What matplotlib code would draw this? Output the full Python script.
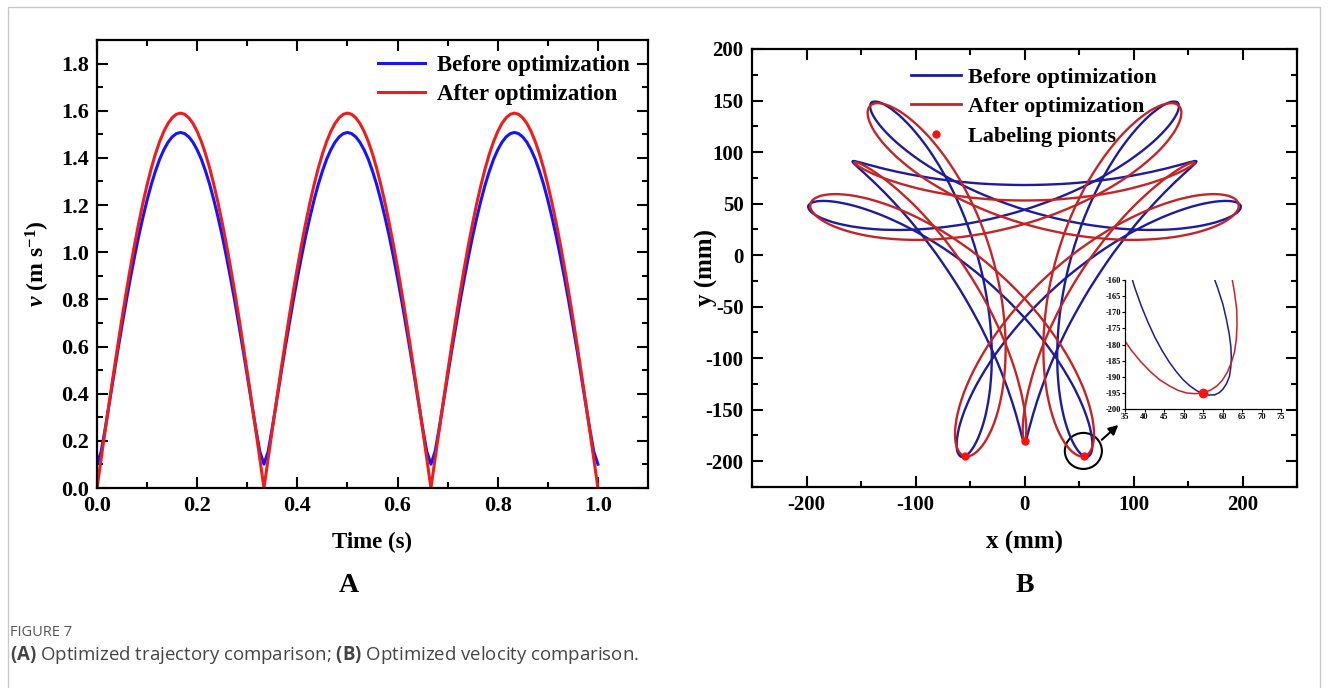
import numpy as np
import matplotlib.pyplot as plt
from matplotlib.patches import Ellipse, Rectangle

plt.rcParams['font.family'] = 'Liberation Serif'
plt.rcParams['font.weight'] = 'bold'
plt.rcParams['axes.labelweight'] = 'bold'
plt.rcParams['axes.unicode_minus'] = False
plt.rcParams['mathtext.fontset'] = 'custom'
plt.rcParams['mathtext.rm'] = 'Liberation Serif:bold'
plt.rcParams['mathtext.it'] = 'Liberation Serif:bold:italic'
plt.rcParams['mathtext.bf'] = 'Open Sans:bold'

# ---- panel A: speed over one second (read every 1/120 s)
time_s = np.linspace(0, 1, 121)
v_before = [0.101, 0.155, 0.256, 0.365, 0.476, 0.585, 0.690, 0.793, 0.890, 0.982,
            1.069, 1.148, 1.221, 1.287, 1.344, 1.394, 1.434, 1.466, 1.489, 1.503,
            1.508, 1.503, 1.489, 1.466, 1.434, 1.394, 1.344, 1.287, 1.221, 1.148,
            1.069, 0.982, 0.890, 0.793, 0.690, 0.585, 0.476, 0.365, 0.256, 0.155,
            0.101, 0.155, 0.256, 0.365, 0.476, 0.585, 0.690, 0.793, 0.890, 0.982,
            1.069, 1.148, 1.221, 1.287, 1.344, 1.394, 1.434, 1.466, 1.489, 1.503,
            1.508, 1.503, 1.489, 1.466, 1.434, 1.394, 1.344, 1.287, 1.221, 1.148,
            1.069, 0.982, 0.890, 0.793, 0.690, 0.585, 0.476, 0.365, 0.256, 0.155,
            0.101, 0.155, 0.256, 0.365, 0.476, 0.585, 0.690, 0.793, 0.890, 0.982,
            1.069, 1.148, 1.221, 1.287, 1.344, 1.394, 1.434, 1.466, 1.489, 1.503,
            1.508, 1.503, 1.489, 1.466, 1.434, 1.394, 1.344, 1.287, 1.221, 1.148,
            1.069, 0.982, 0.890, 0.793, 0.690, 0.585, 0.476, 0.365, 0.256, 0.155,
            0.101]
v_after = [0.000, 0.125, 0.249, 0.371, 0.491, 0.608, 0.722, 0.831, 0.935, 1.033,
           1.124, 1.209, 1.286, 1.356, 1.417, 1.469, 1.512, 1.546, 1.570, 1.585,
           1.590, 1.585, 1.570, 1.546, 1.512, 1.469, 1.417, 1.356, 1.286, 1.209,
           1.124, 1.033, 0.935, 0.831, 0.722, 0.608, 0.491, 0.371, 0.249, 0.125,
           0.000, 0.125, 0.249, 0.371, 0.491, 0.608, 0.722, 0.831, 0.935, 1.033,
           1.124, 1.209, 1.286, 1.356, 1.417, 1.469, 1.512, 1.546, 1.570, 1.585,
           1.590, 1.585, 1.570, 1.546, 1.512, 1.469, 1.417, 1.356, 1.286, 1.209,
           1.124, 1.033, 0.935, 0.831, 0.722, 0.608, 0.491, 0.371, 0.249, 0.125,
           0.000, 0.125, 0.249, 0.371, 0.491, 0.608, 0.722, 0.831, 0.935, 1.033,
           1.124, 1.209, 1.286, 1.356, 1.417, 1.469, 1.512, 1.546, 1.570, 1.585,
           1.590, 1.585, 1.570, 1.546, 1.512, 1.469, 1.417, 1.356, 1.286, 1.209,
           1.124, 1.033, 0.935, 0.831, 0.722, 0.608, 0.491, 0.371, 0.249, 0.125,
           0.000]

# ---- panel B: one tip-to-tip stretch of each loop (mm), the rest is the 3-fold repeat
blue_a_x = [157.6, 157.2, 156.5, 155.3, 153.8, 151.9, 149.6, 146.9, 143.8, 140.3,
            136.5, 132.3, 127.7, 122.7, 117.5, 111.9, 105.9, 99.7, 93.2, 86.4,
            79.4, 72.1, 64.7, 57.0, 49.2, 41.2, 33.1, 24.9, 16.7, 8.3,
            0.0, -8.3, -16.7, -24.9, -33.1, -41.2, -49.2, -57.0, -64.7, -72.1,
            -79.4, -86.4, -93.2, -99.7, -105.9, -111.9, -117.5, -122.7, -127.7, -132.3,
            -136.5, -140.3, -143.8, -146.9, -149.6, -151.9, -153.8, -155.3, -156.5, -157.2,
            -157.6]
blue_a_y = [91.0, 91.2, 91.3, 91.1, 90.7, 90.2, 89.6, 88.8, 87.9, 86.9,
            85.9, 84.7, 83.5, 82.3, 81.0, 79.8, 78.5, 77.3, 76.1, 74.9,
            73.8, 72.8, 71.8, 71.0, 70.2, 69.5, 69.0, 68.6, 68.3, 68.1,
            68.0, 68.1, 68.3, 68.6, 69.0, 69.5, 70.2, 71.0, 71.8, 72.8,
            73.8, 74.9, 76.1, 77.3, 78.5, 79.8, 81.0, 82.3, 83.5, 84.7,
            85.9, 86.9, 87.9, 88.8, 89.6, 90.2, 90.7, 91.1, 91.3, 91.2,
            91.0]
blue_b_x = [140.4, 141.2, 141.6, 141.6, 141.2, 140.4, 139.1, 137.4, 135.2, 132.6,
            129.5, 126.0, 122.0, 117.6, 112.8, 107.5, 101.8, 95.7, 89.2, 82.3,
            75.1, 67.5, 59.6, 51.4, 43.0, 34.3, 25.3, 16.2, 7.0, -2.4,
            -11.9, -21.5, -31.1, -40.7, -50.3, -59.8, -69.3, -78.6, -87.7, -96.7,
            -105.5, -114.0, -122.2, -130.1, -137.7, -145.0, -151.8, -158.3, -164.3, -169.9,
            -175.1, -179.7, -183.9, -187.5, -190.7, -193.3, -195.4, -196.9, -197.9, -198.4,
            -198.4]
blue_b_y = [148.0, 146.8, 145.3, 143.5, 141.2, 138.7, 135.9, 132.8, 129.4, 125.8,
            122.0, 118.0, 113.8, 109.5, 105.2, 100.7, 96.2, 91.6, 87.1, 82.5,
            78.1, 73.6, 69.3, 65.1, 61.0, 57.1, 53.3, 49.8, 46.4, 43.2,
            40.3, 37.6, 35.1, 32.9, 30.9, 29.2, 27.8, 26.6, 25.7, 25.0,
            24.6, 24.4, 24.5, 24.7, 25.2, 25.9, 26.8, 27.8, 29.0, 30.3,
            31.7, 33.3, 34.9, 36.5, 38.2, 39.9, 41.5, 43.2, 44.8, 46.2,
            47.6]
red_a_x = [155.9, 155.9, 155.5, 154.6, 153.4, 151.8, 149.7, 147.3, 144.4, 141.1,
           137.4, 133.3, 128.9, 124.0, 118.8, 113.2, 107.3, 101.1, 94.6, 87.8,
           80.7, 73.3, 65.8, 58.0, 50.0, 41.9, 33.7, 25.4, 17.0, 8.5,
           0.0, -8.5, -17.0, -25.4, -33.7, -41.9, -50.0, -58.0, -65.8, -73.3,
           -80.7, -87.8, -94.6, -101.1, -107.3, -113.2, -118.8, -124.0, -128.9, -133.3,
           -137.4, -141.1, -144.4, -147.3, -149.7, -151.8, -153.4, -154.6, -155.5, -155.9,
           -155.9]
red_a_y = [90.0, 89.6, 88.9, 88.1, 87.1, 85.9, 84.6, 83.1, 81.6, 79.9,
           78.2, 76.4, 74.6, 72.8, 71.0, 69.1, 67.4, 65.6, 63.9, 62.3,
           60.8, 59.4, 58.1, 57.0, 55.9, 55.1, 54.3, 53.7, 53.3, 53.1,
           53.0, 53.1, 53.3, 53.7, 54.3, 55.1, 55.9, 57.0, 58.1, 59.4,
           60.8, 62.3, 63.9, 65.6, 67.4, 69.1, 71.0, 72.8, 74.6, 76.4,
           78.2, 79.9, 81.6, 83.1, 84.6, 85.9, 87.1, 88.1, 88.9, 89.6,
           90.0]
red_b_x = [141.4, 142.6, 143.5, 143.9, 143.8, 143.4, 142.4, 141.0, 139.1, 136.8,
           133.9, 130.6, 126.8, 122.5, 117.8, 112.6, 107.0, 100.9, 94.5, 87.6,
           80.3, 72.7, 64.8, 56.5, 47.9, 39.1, 30.1, 20.8, 11.4, 1.8,
           -7.9, -17.6, -27.4, -37.2, -47.0, -56.7, -66.4, -75.9, -85.2, -94.4,
           -103.3, -112.0, -120.4, -128.4, -136.2, -143.5, -150.5, -157.0, -163.1, -168.7,
           -173.9, -178.6, -182.7, -186.3, -189.4, -191.9, -193.9, -195.4, -196.3, -196.6,
           -196.4]
red_b_y = [145.1, 143.5, 141.5, 139.2, 136.5, 133.4, 130.1, 126.5, 122.6, 118.6,
           114.3, 109.8, 105.2, 100.5, 95.7, 90.9, 86.0, 81.1, 76.2, 71.4,
           66.6, 62.0, 57.4, 53.0, 48.8, 44.8, 40.9, 37.3, 33.9, 30.8,
           27.9, 25.3, 23.0, 20.9, 19.2, 17.7, 16.6, 15.7, 15.1, 14.8,
           14.8, 15.1, 15.6, 16.4, 17.4, 18.6, 20.1, 21.7, 23.5, 25.4,
           27.5, 29.6, 31.9, 34.2, 36.5, 38.9, 41.2, 43.5, 45.7, 47.8,
           49.9]
label_x = [0, -55, 55]
label_y = [-180, -195, -195]


def spin(x, y, deg, flip=False):
    z = np.asarray(x) + 1j * np.asarray(y)
    if flip:
        z = -z.conj()
    z = z * np.exp(1j * np.deg2rad(deg))
    return z.real, z.imag


def draw_loops(ax, pieces, color, lw):
    for x, y, flip in pieces:
        for deg in (0, 120, 240):
            xx, yy = spin(x, y, deg, flip)
            ax.plot(xx, yy, color=color, lw=lw, solid_capstyle='round')


blue_pieces = [(blue_a_x, blue_a_y, False), (blue_b_x, blue_b_y, False), (blue_b_x, blue_b_y, True)]
red_pieces = [(red_a_x, red_a_y, False), (red_b_x, red_b_y, False), (red_b_x, red_b_y, True)]

BLUE1, RED1 = '#1414ff', '#ef1c1c'
BLUE2, RED2 = '#1c1c9c', '#c62424'
DOT = '#ff1010'

W, H = 1328, 688
fig = plt.figure(figsize=(W / 100, H / 100), dpi=100)


def px_axes(x0, y0, x1, y1):
    return fig.add_axes([x0 / W, 1 - y1 / H, (x1 - x0) / W, (y1 - y0) / H])


# panel A
ax1 = px_axes(97, 40, 648, 488)
ax1.plot(time_s, v_before, color=BLUE1, lw=2.2, label='Before optimization')
ax1.plot(time_s, v_after, color=RED1, lw=2.2, label='After optimization')
ax1.set_xlim(0, 1.1)
ax1.set_ylim(0, 1.9)
ax1.set_xticks(np.arange(0, 1.01, 0.2))
ax1.set_xticks(np.arange(0, 1.1, 0.1), minor=True)
ax1.set_yticks(np.arange(0, 1.81, 0.2))
ax1.set_yticks(np.arange(0, 1.9, 0.1), minor=True)
ax1.set_xticklabels(['%.1f' % v for v in np.arange(0, 1.01, 0.2)])
ax1.set_yticklabels(['%.1f' % v for v in np.arange(0, 1.81, 0.2)])
ax1.set_xlabel('Time (s)', fontsize=16.5, labelpad=11)
ax1.set_ylabel(r'$\mathit{v}\ \mathrm{(m\ s^{-1})}$', fontsize=17)
ax1.yaxis.set_label_coords(-0.082, 0.5)
ax1.legend(loc='upper left', bbox_to_anchor=(0.51, 0.967), frameon=False,
           fontsize=16.5, handlelength=2.05, handletextpad=0.52, labelspacing=0.34,
           borderaxespad=0, borderpad=0)

# panel B
ax2 = px_axes(752, 49, 1297, 487)
draw_loops(ax2, blue_pieces, BLUE2, 1.7)
draw_loops(ax2, red_pieces, RED2, 1.7)
ax2.plot([], [], color=BLUE2, lw=2, label='Before optimization')
ax2.plot([], [], color=RED2, lw=2, label='After optimization')
ax2.plot(label_x, label_y, 'o', color=DOT, ms=5, ls='none', label='Labeling pionts')
ax2.set_xlim(-250, 250)
ax2.set_ylim(-225, 200)
ax2.set_xticks(np.arange(-200, 201, 100))
ax2.set_xticks(np.arange(-250, 251, 50), minor=True)
ax2.set_yticks(np.arange(-200, 201, 50))
ax2.set_yticks(np.arange(-225, 201, 25), minor=True)
ax2.set_xlabel('x (mm)', fontsize=18, labelpad=11)
ax2.set_ylabel('y (mm)', fontsize=18)
ax2.yaxis.set_label_coords(-0.063, 0.5)
ax2.legend(loc='upper left', bbox_to_anchor=(0.292, 0.959), frameon=False,
           fontsize=16, handlelength=2.26, handletextpad=0.32, labelspacing=0.41,
           borderaxespad=0, borderpad=0)
ax2.add_patch(Ellipse((54, -190), 34, 35, fill=False, lw=1.5, color='black'))
ax2.annotate('', xy=(88, -163), xytext=(69, -181),
             arrowprops=dict(arrowstyle='-|>', color='black', lw=1.5, mutation_scale=14))

for ax, ls in ((ax1, 16), (ax2, 15)):
    ax.tick_params(which='both', direction='in', top=True, right=True, width=1.5,
                   labelsize=ls, pad=6)
    ax.tick_params(which='major', length=8)
    ax.tick_params(which='minor', length=4)
    for s in ax.spines.values():
        s.set_linewidth(1.6)

# zoomed view of the right labeling point
ins = px_axes(1125, 280, 1281, 409)
draw_loops(ins, blue_pieces, BLUE2, 1.1)
draw_loops(ins, red_pieces, RED2, 1.1)
ins.plot([label_x[2]], [label_y[2]], 'o', color=DOT, ms=6)
ins.set_xlim(35, 75)
ins.set_ylim(-200, -160)
ins.set_xticks(np.arange(35, 76, 5))
ins.set_yticks(np.arange(-200, -159, 5))
ins.spines['top'].set_visible(False)
ins.spines['right'].set_visible(False)
ins.tick_params(labelsize=6, length=2, width=0.8, pad=1)
for s in ins.spines.values():
    s.set_linewidth(0.9)

fig.text(349 / W, 1 - 585 / H, 'A', fontsize=20, ha='center', va='center')
fig.text(1025 / W, 1 - 585 / H, 'B', fontsize=20, ha='center', va='center')
fig.text(10 / W, 1 - 632 / H, 'FIGURE 7', fontsize=10.5, color='#555555',
         family='Open Sans', weight='normal', va='center')
fig.text(10 / W, 1 - 655 / H,
         r'$\bf{(A)}$ Optimized trajectory comparison; $\bf{(B)}$ Optimized velocity comparison.',
         fontsize=13.4, color='#444444', family='Open Sans', weight='normal', va='center')
fig.patches.append(Rectangle((8 / W, -0.05), 1312 / W, 1.05 - 7 / H, transform=fig.transFigure,
                             fill=False, edgecolor='#c8c8c8', lw=1))

fig.savefig('out.png', dpi=100)
